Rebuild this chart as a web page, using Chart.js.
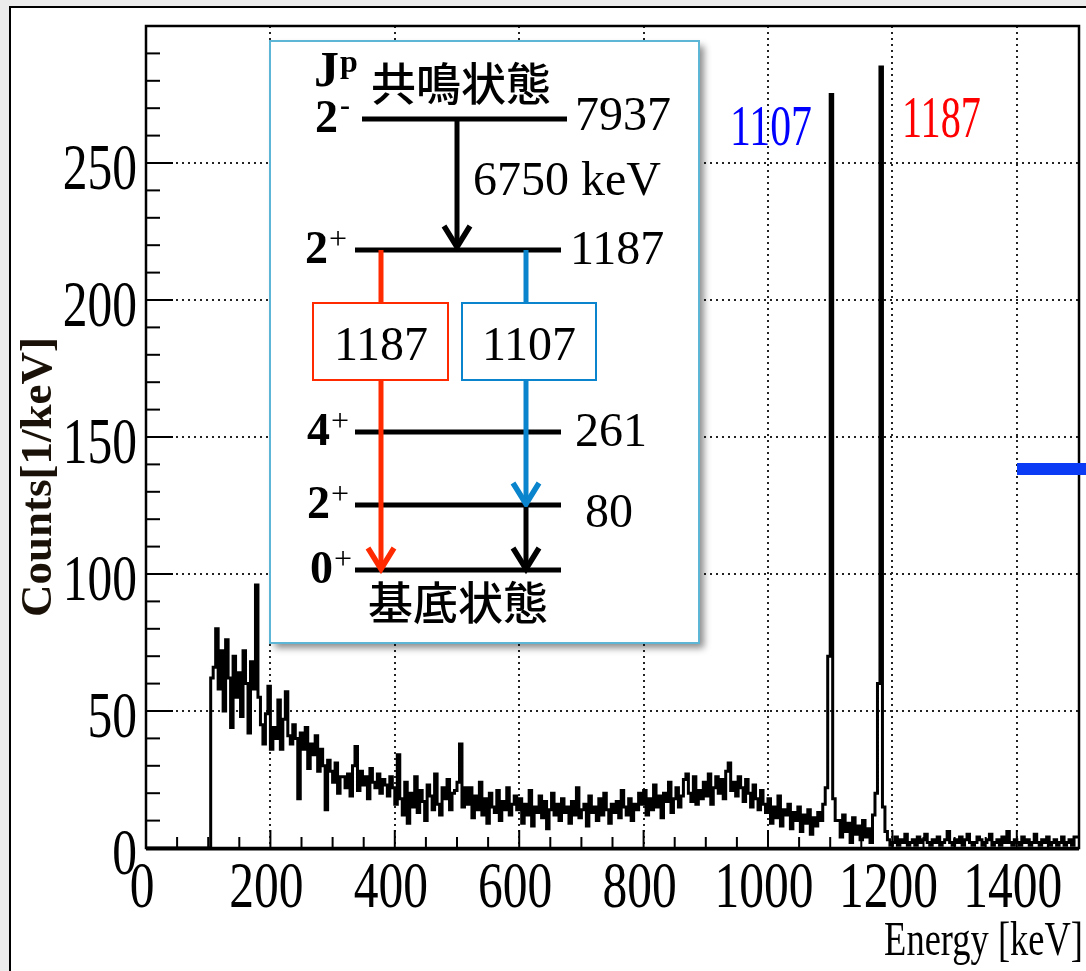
<!DOCTYPE html>
<html>
<head>
<meta charset="utf-8">
<script src="https://cdn.jsdelivr.net/npm/chart.js@4.4.1/dist/chart.umd.min.js"></script>
<style>
  body { margin: 0; background: #ececec; }
  #wrap { width: 1086px; height: 971px; }
</style>
</head>
<body>
<div id="wrap"><canvas id="spectrum" width="1086" height="971"></canvas></div>
<script>
// Histogram: 4 keV bins starting at 0 keV
const binWidth = 4;
const counts = [
  0,0,0,0,0,0,0,0,0,0,0,0,0,0,0,0,0,0,0,0,0,0,0,0,0,0,0,
  62,
  66,80,58,72,50,76,62,44,70,55,64,48,72,60,42,68,58,
  96,55,
  45,38,49,59,36,44,40,54,36,47,57,41,38,45,40,
  18,42,36,44,29,38,34,41,28,36,30,14,32,
  28,24,31,20,26,26,22,27,19,30,37,21,28,23,26,18,29,24,22,27,20,25,23,19,26,
  22,16,34,18,12,24,9,20,15,26,13,21,17,10,23,19,14,27,16,12,22,18,25,14,20,
  21,24,38,15,22,
  16,22,11,19,14,24,12,18,9,20,15,13,21,10,17,14,22,12,16,19,
  14,18,9,16,12,21,8,15,13,19,11,17,7,14,20,12,16,10,18,13,
  15,9,17,12,22,11,14,16,8,19,13,15,10,18,12,20,14,9,16,13,
  17,11,21,15,12,18,10,16,14,20,
  16,21,12,18,14,23,15,19,11,20,17,24,13,18,22,15,19,25,27,20,17,26,16,21,18,
  24,19,27,16,22,26,20,25,18,28,31,21,24,19,26,22,17,25,20,15,23,18,14,21,16,
  13,18,9,15,11,19,8,14,12,16,7,13,10,15,6,12,9,14,5,11,8,13,10,16,
  22,70,275,18,10,
  10,4,12,6,9,2,11,5,8,3,10,4,7,2,12,20,
  60,285,15,6,
  3,1,2,4,1,3,2,5,1,2,3,1,4,2,3,5,2,1,3,2,
  4,1,2,3,6,2,1,3,2,4,1,3,5,2,1,2,4,3,1,2,
  3,5,1,2,3,1,4,2,6,2,1,3,2,1,4,2,3,1,2,5,
  2,1,3,2,4,1,2,3,1,2,4,1,2,3,1,4
];
const xTickLabels = [0, 200, 400, 600, 800, 1000, 1200, 1400];
const yTickLabels = [0, 50, 100, 150, 200, 250];
const peakLabels = ["1107", "1187"];

// level scheme in the inset
const levelSpins = ["2", "2", "4", "2", "0"];
const levelParity = ["-", "+", "+", "+", "+"];
const levelEnergies = ["7937", "1187", "261", "80", ""];
const gammaLabels = ["6750 keV", "1187", "1107"];

const histData = counts.map((c, i) => ({ x: i * binWidth, y: c }));
histData.push({ x: counts.length * binWidth, y: counts[counts.length - 1] });

const SERIF = '"Liberation Serif", "Times New Roman", serif';
const CJK = '"Noto Sans CJK JP", "Noto Sans CJK SC", sans-serif';

// text squeezed horizontally like the original ROOT output
function drawText(ctx, text, x, y, font, color, align, sx) {
  ctx.save();
  ctx.font = font;
  ctx.fillStyle = color;
  ctx.textAlign = align;
  ctx.textBaseline = "alphabetic";
  ctx.translate(x, y);
  ctx.scale(sx || 1, 1);
  ctx.fillText(text, 0, 0);
  ctx.restore();
}

function drawArrow(ctx, x, y1, y2, color) {
  ctx.save();
  ctx.strokeStyle = color;
  ctx.lineWidth = 5;
  ctx.beginPath();
  ctx.moveTo(x, y1);
  ctx.lineTo(x, y2 - 2);
  ctx.stroke();
  ctx.lineJoin = "miter";
  ctx.lineWidth = 5.5;
  ctx.beginPath();
  ctx.moveTo(x - 13, y2 - 22);
  ctx.lineTo(x, y2 - 1);
  ctx.lineTo(x + 13, y2 - 22);
  ctx.stroke();
  ctx.restore();
}

function drawLevelScheme(ctx) {
  const box = { left: 270, top: 41, right: 699, bottom: 643 };
  ctx.save();
  ctx.shadowColor = "rgba(0,0,0,0.45)";
  ctx.shadowBlur = 7;
  ctx.shadowOffsetX = 5;
  ctx.shadowOffsetY = 5;
  ctx.fillStyle = "#ffffff";
  ctx.fillRect(box.left, box.top, box.right - box.left, box.bottom - box.top);
  ctx.restore();
  ctx.strokeStyle = "#5db6d6";
  ctx.lineWidth = 2;
  ctx.strokeRect(box.left, box.top, box.right - box.left, box.bottom - box.top);

  const red = "#ff2a00";
  const blue = "#0a84cc";

  // J^p header + state names
  drawText(ctx, "J", 314, 86, "bold 50px " + SERIF, "#000", "left");
  drawText(ctx, "p", 340, 72, "bold 32px " + SERIF, "#000", "left");
  ctx.save();
  ctx.font = "500 45px " + CJK;
  ctx.fillStyle = "#000";
  ctx.textAlign = "center";
  ctx.textBaseline = "middle";
  ctx.fillText("共鳴状態", 461, 84);
  ctx.fillText("基底状態", 458, 603);
  ctx.restore();

  // levels
  const levelY = [119, 250, 432, 505, 570];
  const levelX = [[362, 567], [355, 561], [355, 561], [355, 561], [355, 561]];
  const spinX = [315, 305, 307, 307, 310];
  const energyX = [575, 570, 575, 585, 0];
  ctx.strokeStyle = "#000";
  ctx.lineWidth = 5;
  levelY.forEach((y, i) => {
    ctx.beginPath();
    ctx.moveTo(levelX[i][0], y);
    ctx.lineTo(levelX[i][1], y);
    ctx.stroke();
    const base = y + 13;
    drawText(ctx, levelSpins[i], spinX[i], base, "bold 46px " + SERIF, "#000", "left");
    if (levelParity[i] === "-") {
      drawText(ctx, "-", spinX[i] + 25, base - 17, "bold 30px " + SERIF, "#000", "left");
    } else {
      drawText(ctx, "+", spinX[i] + 24, base - 14, "32px " + SERIF, "#000", "left");
    }
    if (levelEnergies[i]) {
      drawText(ctx, levelEnergies[i], energyX[i], y + 14 + (i === 0 ? -3 : 0) + (i === 3 ? 8 : 0), "48px " + SERIF, "#000", "left");
    }
  });

  // 6750 keV primary gamma
  drawArrow(ctx, 457, 119, 248, "#000");
  drawText(ctx, gammaLabels[0], 473, 195, "48px " + SERIF, "#000", "left");

  // secondary gammas
  ctx.lineWidth = 5;
  ctx.strokeStyle = red;
  ctx.beginPath(); ctx.moveTo(381, 250); ctx.lineTo(381, 303); ctx.stroke();
  ctx.strokeStyle = blue;
  ctx.beginPath(); ctx.moveTo(526, 250); ctx.lineTo(526, 303); ctx.stroke();

  ctx.lineWidth = 2;
  ctx.strokeStyle = red;
  ctx.strokeRect(313, 303, 135, 77);
  ctx.strokeStyle = blue;
  ctx.strokeRect(462, 303, 134, 77);
  drawText(ctx, gammaLabels[1], 381, 360, "48px " + SERIF, "#000", "center");
  drawText(ctx, gammaLabels[2], 529, 360, "48px " + SERIF, "#000", "center");

  drawArrow(ctx, 381, 380, 570, red);
  drawArrow(ctx, 526, 380, 505, blue);
  drawArrow(ctx, 526, 507, 570, "#000");
}

const decorPlugin = {
  id: "decor",
  beforeDraw(chart) {
    const ctx = chart.ctx;
    ctx.save();
    ctx.fillStyle = "#ececec";
    ctx.fillRect(0, 0, chart.width, chart.height);
    ctx.fillStyle = "#ffffff";
    ctx.fillRect(10, 7, chart.width, chart.height);
    ctx.strokeStyle = "#000";
    ctx.lineWidth = 2;
    ctx.strokeRect(10, 7, chart.width + 20, chart.height + 20);
    ctx.restore();
  },
  afterDraw(chart) {
    const ctx = chart.ctx;
    const ca = chart.chartArea;
    const xs = chart.scales.x;
    const ys = chart.scales.y;
    ctx.save();

    // frame
    ctx.strokeStyle = "#000";
    ctx.lineWidth = 2.5;
    ctx.strokeRect(ca.left, ca.top, ca.right - ca.left, ca.bottom - ca.top);
    ctx.lineWidth = 3;
    ctx.beginPath(); ctx.moveTo(ca.left, ca.bottom + 1); ctx.lineTo(ca.right, ca.bottom + 1); ctx.stroke();

    // tick marks pointing inward
    ctx.lineWidth = 2;
    for (let v = 0; v <= 1500; v += 50) {
      const px = xs.getPixelForValue(v);
      const len = v % 200 === 0 ? 18 : 11;
      ctx.beginPath(); ctx.moveTo(px, ca.bottom); ctx.lineTo(px, ca.bottom - len); ctx.stroke();
    }
    for (let v = 0; v <= 300; v += 10) {
      const py = ys.getPixelForValue(v);
      const len = v % 50 === 0 ? 27 : 14;
      ctx.beginPath(); ctx.moveTo(ca.left, py); ctx.lineTo(ca.left + len, py); ctx.stroke();
    }

    // tick labels
    xTickLabels.forEach(v => {
      drawText(ctx, String(v), xs.getPixelForValue(v) - 4, ca.bottom + 59, "66px " + SERIF, "#000", "center", 0.75);
    });
    yTickLabels.forEach(v => {
      drawText(ctx, String(v), ca.left - 9, ys.getPixelForValue(v) + 26, "66px " + SERIF, "#000", "right", 0.75);
    });

    // axis titles
    drawText(ctx, "Energy [keV]", 1083, 955, "48px " + SERIF, "#000", "right", 0.76);
    ctx.save();
    ctx.translate(51, 477);
    ctx.rotate(-Math.PI / 2);
    drawText(ctx, "Counts[1/keV]", 0, 0, "bold 45px " + SERIF, "#1a1208", "center");
    ctx.restore();

    // peak labels
    drawText(ctx, peakLabels[0], 812, 145, "58px " + SERIF, "#0000ff", "right", 0.72);
    drawText(ctx, peakLabels[1], 902, 137, "60px " + SERIF, "#ff0000", "left", 0.67);

    drawLevelScheme(ctx);

    // stray blue bar at the right edge
    ctx.fillStyle = "#0b3bf5";
    ctx.fillRect(1017, 463, 80, 12);
    ctx.restore();
  }
};

new Chart(document.getElementById("spectrum"), {
  type: "line",
  data: {
    datasets: [{
      data: histData,
      stepped: "after",
      borderColor: "#000",
      borderWidth: 3,
      pointRadius: 0,
      fill: false,
      tension: 0
    }]
  },
  options: {
    responsive: false,
    animation: false,
    layout: { padding: { left: 146, top: 26, right: 7, bottom: 123 } },
    plugins: { legend: { display: false }, tooltip: { enabled: false } },
    scales: {
      x: {
        type: "linear",
        min: 0,
        max: 1500,
        ticks: { display: false, stepSize: 200 },
        afterBuildTicks: s => { s.ticks = s.ticks.filter(t => t.value % 200 === 0); },
        afterFit: s => { s.height = 0; },
        grid: { color: "#222", lineWidth: 2, drawTicks: false },
        border: { display: false, dash: [2, 4] }
      },
      y: {
        min: 0,
        max: 300,
        ticks: { display: false, stepSize: 50 },
        afterFit: s => { s.width = 0; },
        grid: { color: "#222", lineWidth: 2, drawTicks: false },
        border: { display: false, dash: [2, 4] }
      }
    }
  },
  plugins: [decorPlugin]
});
</script>
</body>
</html>
